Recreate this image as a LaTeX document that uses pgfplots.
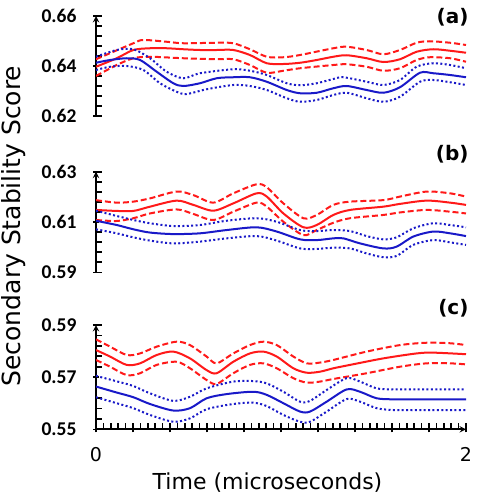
\documentclass[border=0pt]{standalone}
\usepackage{fontspec}
\setmainfont{DejaVu Sans}
\newfontfamily\tickfont{Carlito}
\usepackage{pgfplots}
\pgfplotsset{compat=1.18}
\definecolor{myred}{RGB}{255,25,25}
\definecolor{myblue}{RGB}{25,25,200}
\pgfplotsset{
  panel/.style={
    scale only axis, width=370pt, xmin=0, xmax=2,
    axis line style={-, line width=1.8pt, black},
    every tick/.style={black, line width=1.6pt},
    tick align=outside, major tick length=6pt,
    yticklabel={\pgfmathprintnumber[fixed,fixed zerofill,precision=2,assume math mode=true]{\tick}},
    y tick label style={font=\tickfont\bfseries\fontsize{19.5}{19.5}\selectfont, xshift=-13pt},
    extra y tick labels={},
    extra y tick style={tick align=inside},
  },
  rs/.style={myred, line width=2pt, smooth, tension=0.5},
  rd/.style={myred, line width=2pt, dash pattern=on 6pt off 3pt, smooth, tension=0.5},
  bs/.style={myblue, line width=2pt, smooth, tension=0.5},
  bd/.style={myblue, line width=2pt, dash pattern=on 2pt off 2.4pt, smooth, tension=0.5},
}
\begin{document}
\begin{tikzpicture}
\path[use as bounding box] (0,0) rectangle (476pt,-500pt);
% ---------------- (a)
\begin{axis}[panel, at={(96pt,-116pt)}, anchor=south west, height=100pt,
  axis y line=left, axis x line=none,
  ymin=0.62, ymax=0.66, ytick={0.62,0.64,0.66},
  extra y ticks={0.624,0.628,0.632,0.636,0.644,0.648,0.652,0.656,0.62,0.66}]
\addplot[rs] coordinates {(0,0.6397) (0.112,0.6431) (0.202,0.6464) (0.292,0.6471) (0.382,0.6471) (0.472,0.6467) (0.562,0.6464) (0.652,0.6464) (0.742,0.6464) (0.832,0.6444) (0.923,0.6411) (1.013,0.6408) (1.103,0.6413) (1.193,0.6424) (1.283,0.6437) (1.355,0.6443) (1.463,0.6431) (1.553,0.6416) (1.643,0.6427) (1.733,0.6457) (1.823,0.6467) (1.914,0.6461) (2,0.6453)};
\addplot[rd] coordinates {(0,0.6427) (0.202,0.6491) (0.256,0.6504) (0.382,0.6497) (0.472,0.6491) (0.652,0.6493) (0.742,0.6491) (0.832,0.6467) (0.923,0.6437) (1.013,0.6435) (1.103,0.6444) (1.283,0.6471) (1.355,0.6477) (1.463,0.6464) (1.553,0.6447) (1.643,0.6464) (1.733,0.6493) (1.805,0.6499) (1.914,0.6493) (2,0.6484)};
\addplot[rd] coordinates {(0,0.6360) (0.112,0.6404) (0.202,0.6431) (0.292,0.6437) (0.472,0.6431) (0.652,0.6427) (0.742,0.6427) (0.832,0.6404) (0.923,0.6373) (1.013,0.6381) (1.103,0.6391) (1.283,0.6404) (1.355,0.6407) (1.463,0.6397) (1.553,0.6381) (1.643,0.6391) (1.733,0.6424) (1.805,0.6435) (1.914,0.6431) (2,0.6417)};
\addplot[bs] coordinates {(0,0.6413) (0.076,0.6424) (0.166,0.6431) (0.238,0.6424) (0.328,0.6377) (0.418,0.6331) (0.472,0.6320) (0.562,0.6331) (0.652,0.6351) (0.742,0.6355) (0.832,0.6355) (0.923,0.6337) (1.031,0.6304) (1.103,0.6291) (1.193,0.6293) (1.283,0.6311) (1.355,0.6320) (1.463,0.6304) (1.553,0.6293) (1.643,0.6315) (1.751,0.6373) (1.823,0.6371) (1.914,0.6364) (2,0.6355)};
\addplot[bd] coordinates {(0,0.6437) (0.112,0.6464) (0.202,0.6467) (0.292,0.6431) (0.382,0.6377) (0.472,0.6351) (0.562,0.6371) (0.742,0.6387) (0.832,0.6381) (0.923,0.6364) (1.031,0.6331) (1.103,0.6323) (1.193,0.6331) (1.283,0.6348) (1.337,0.6355) (1.463,0.6337) (1.553,0.6324) (1.643,0.6344) (1.733,0.6397) (1.823,0.6411) (1.914,0.6404) (2,0.6391)};
\addplot[bd] coordinates {(0,0.6384) (0.076,0.6397) (0.166,0.6400) (0.256,0.6384) (0.346,0.6331) (0.436,0.6297) (0.490,0.6288) (0.598,0.6307) (0.742,0.6324) (0.832,0.6320) (0.923,0.6304) (1.031,0.6271) (1.103,0.6257) (1.193,0.6264) (1.283,0.6284) (1.355,0.6293) (1.463,0.6271) (1.553,0.6257) (1.643,0.6277) (1.751,0.6337) (1.823,0.6344) (1.914,0.6335) (2,0.6324)};
\end{axis}
% ---------------- (b)
\begin{axis}[panel, at={(96pt,-272.3pt)}, anchor=south west, height=100.6pt,
  axis y line=left, axis x line=none,
  ymin=0.59, ymax=0.63, ytick={0.59,0.61,0.63},
  extra y ticks={0.594,0.598,0.602,0.606,0.614,0.618,0.622,0.626,0.59,0.63}]
\addplot[rs] coordinates {(0,0.6148) (0.112,0.6144) (0.202,0.6144) (0.292,0.6161) (0.436,0.6185) (0.526,0.6168) (0.634,0.6145) (0.742,0.6174) (0.868,0.6214) (0.923,0.6201) (1.013,0.6134) (1.121,0.6079) (1.193,0.6088) (1.283,0.6128) (1.373,0.6148) (1.553,0.6161) (1.643,0.6172) (1.787,0.6185) (1.914,0.6177) (2,0.6168)};
\addplot[rd] coordinates {(0,0.6187) (0.112,0.6177) (0.202,0.6181) (0.292,0.6194) (0.436,0.6221) (0.526,0.6207) (0.634,0.6177) (0.742,0.6214) (0.868,0.6250) (0.923,0.6238) (1.013,0.6174) (1.121,0.6115) (1.193,0.6128) (1.283,0.6168) (1.373,0.6181) (1.553,0.6187) (1.643,0.6201) (1.787,0.6221) (1.914,0.6214) (2,0.6201)};
\addplot[rd] coordinates {(0,0.6108) (0.112,0.6104) (0.202,0.6115) (0.292,0.6134) (0.436,0.6150) (0.526,0.6132) (0.634,0.6108) (0.742,0.6141) (0.868,0.6177) (0.923,0.6161) (1.013,0.6101) (1.121,0.6048) (1.193,0.6068) (1.283,0.6097) (1.373,0.6115) (1.553,0.6128) (1.643,0.6138) (1.787,0.6148) (1.914,0.6141) (2,0.6134)};
\addplot[bs] coordinates {(0,0.6105) (0.112,0.6088) (0.202,0.6071) (0.292,0.6058) (0.418,0.6052) (0.562,0.6055) (0.706,0.6068) (0.868,0.6079) (0.977,0.6062) (1.103,0.6031) (1.193,0.6028) (1.283,0.6035) (1.337,0.6035) (1.427,0.6015) (1.553,0.5995) (1.625,0.6002) (1.715,0.6042) (1.823,0.6062) (1.914,0.6055) (2,0.6044)};
\addplot[bd] coordinates {(0,0.6145) (0.112,0.6124) (0.202,0.6108) (0.292,0.6095) (0.418,0.6084) (0.562,0.6088) (0.706,0.6105) (0.868,0.6115) (0.977,0.6101) (1.103,0.6068) (1.193,0.6064) (1.283,0.6068) (1.373,0.6064) (1.463,0.6044) (1.553,0.6031) (1.625,0.6039) (1.715,0.6075) (1.823,0.6095) (1.914,0.6088) (2,0.6079)};
\addplot[bd] coordinates {(0,0.6071) (0.112,0.6055) (0.202,0.6039) (0.292,0.6026) (0.418,0.6015) (0.562,0.6022) (0.706,0.6035) (0.868,0.6044) (0.977,0.6026) (1.103,0.5995) (1.193,0.5993) (1.283,0.5998) (1.373,0.5995) (1.463,0.5975) (1.553,0.5960) (1.625,0.5965) (1.715,0.6009) (1.823,0.6028) (1.914,0.6019) (2,0.6009)};
\end{axis}
% ---------------- (c)
\begin{axis}[panel, at={(96pt,-429.3pt)}, anchor=south west, height=104.3pt,
  axis lines=left,
  ymin=0.55, ymax=0.59, ytick={0.55,0.57,0.59},
  extra y ticks={0.554,0.558,0.562,0.566,0.574,0.578,0.582,0.586,0.55,0.59},
  xtick={0,0.2,0.4,0.6,0.8,1,1.2,1.4,1.6,1.8,2},
  xticklabels={0,,,,,,,,,,2},
  x tick label style={font=\fontsize{19}{19}\selectfont, yshift=-12pt},
  extra x ticks={0,0.04,0.08,0.12,0.16,0.2,0.24,0.28,0.32,0.36,0.4,0.44,0.48,0.52,0.56,0.6,0.64,0.68,0.72,0.76,0.8,0.84,0.88,0.92,0.96,1,1.04,1.08,1.12,1.16,1.2,1.24,1.28,1.32,1.36,1.4,1.44,1.48,1.52,1.56,1.6,1.64,1.68,1.72,1.76,1.8,1.84,1.88,1.92,1.96,2},
  extra x tick labels={},
  extra x tick style={tick align=inside}]
\addplot[rs] coordinates {(0,0.5804) (0.076,0.5779) (0.166,0.5747) (0.238,0.5753) (0.328,0.5785) (0.418,0.5798) (0.508,0.5772) (0.598,0.5727) (0.652,0.5715) (0.742,0.5759) (0.832,0.5791) (0.905,0.5798) (0.977,0.5779) (1.067,0.5734) (1.139,0.5717) (1.211,0.5721) (1.283,0.5734) (1.373,0.5747) (1.553,0.5772) (1.733,0.5791) (1.823,0.5794) (2,0.5788)};
\addplot[rd] coordinates {(0,0.5845) (0.076,0.5817) (0.166,0.5785) (0.238,0.5791) (0.328,0.5817) (0.436,0.5836) (0.508,0.5823) (0.598,0.5779) (0.652,0.5753) (0.742,0.5791) (0.832,0.5823) (0.905,0.5836) (0.977,0.5823) (1.067,0.5779) (1.139,0.5753) (1.211,0.5756) (1.283,0.5766) (1.463,0.5798) (1.643,0.5823) (1.787,0.5832) (1.914,0.5830) (2,0.5823)};
\addplot[rd] coordinates {(0,0.5766) (0.076,0.5740) (0.166,0.5708) (0.238,0.5715) (0.328,0.5747) (0.436,0.5759) (0.508,0.5734) (0.598,0.5689) (0.652,0.5674) (0.742,0.5715) (0.832,0.5747) (0.905,0.5753) (0.977,0.5734) (1.067,0.5696) (1.139,0.5679) (1.211,0.5683) (1.283,0.5693) (1.463,0.5715) (1.643,0.5740) (1.787,0.5753) (1.914,0.5753) (2,0.5749)};
\addplot[bs] coordinates {(0,0.5664) (0.112,0.5641) (0.202,0.5623) (0.292,0.5597) (0.418,0.5572) (0.508,0.5581) (0.598,0.5619) (0.706,0.5635) (0.850,0.5644) (0.923,0.5632) (1.013,0.5600) (1.103,0.5568) (1.157,0.5568) (1.247,0.5606) (1.355,0.5653) (1.427,0.5644) (1.517,0.5619) (1.607,0.5615) (1.733,0.5615) (2,0.5615)};
\addplot[bd] coordinates {(0,0.5705) (0.112,0.5684) (0.202,0.5666) (0.292,0.5638) (0.418,0.5609) (0.508,0.5625) (0.598,0.5657) (0.742,0.5683) (0.850,0.5685) (0.923,0.5676) (1.013,0.5644) (1.103,0.5606) (1.157,0.5609) (1.247,0.5651) (1.355,0.5696) (1.427,0.5683) (1.517,0.5657) (1.607,0.5653) (1.733,0.5653) (2,0.5653)};
\addplot[bd] coordinates {(0,0.5623) (0.112,0.5600) (0.202,0.5581) (0.292,0.5555) (0.418,0.5529) (0.508,0.5542) (0.598,0.5577) (0.742,0.5597) (0.850,0.5602) (0.923,0.5589) (1.013,0.5555) (1.103,0.5529) (1.157,0.5529) (1.247,0.5568) (1.355,0.5616) (1.427,0.5606) (1.517,0.5581) (1.607,0.5574) (1.733,0.5574) (2,0.5574)};
\end{axis}
\node[anchor=base east, font=\bfseries\fontsize{20}{20}\selectfont] at (472pt,-24pt) {(a)};
\node[anchor=base east, font=\bfseries\fontsize{20}{20}\selectfont] at (472pt,-160pt) {(b)};
\node[anchor=base east, font=\bfseries\fontsize{20}{20}\selectfont] at (472pt,-314pt) {(c)};
\node[rotate=90, anchor=base, font=\fontsize{25}{25}\selectfont] at (20.5pt,-226pt) {Secondary Stability Score};
\node[anchor=base, font=\fontsize{22}{22}\selectfont] at (267.5pt,-489pt) {Time (microseconds)};
\end{tikzpicture}
\end{document}
